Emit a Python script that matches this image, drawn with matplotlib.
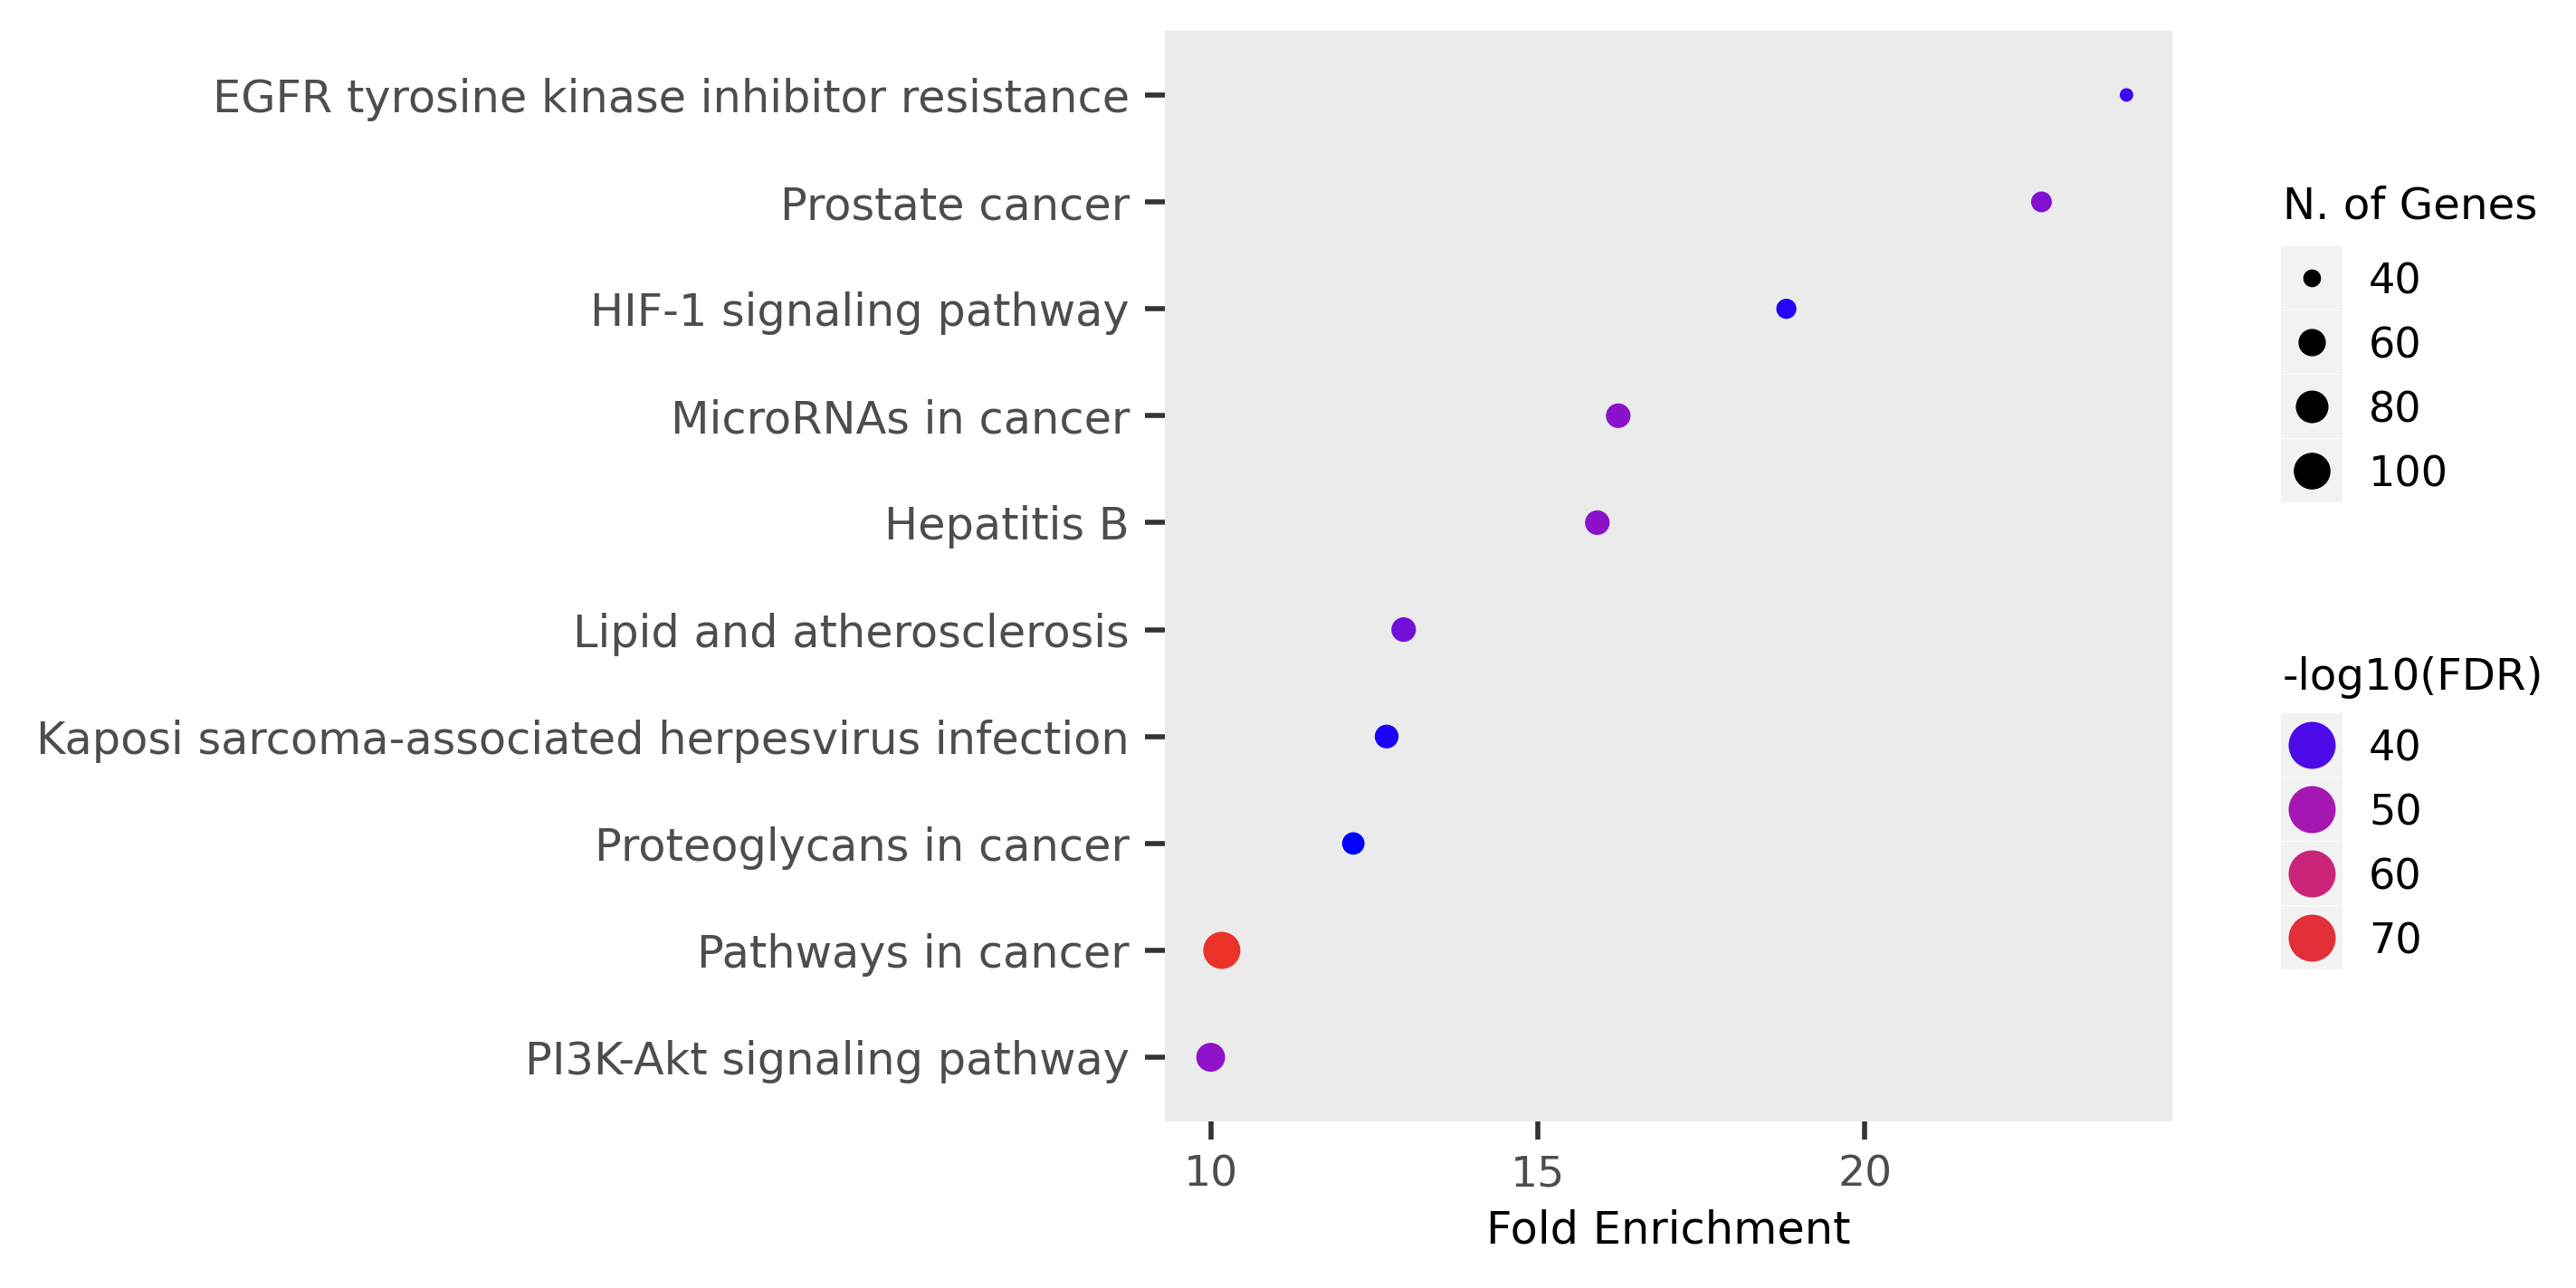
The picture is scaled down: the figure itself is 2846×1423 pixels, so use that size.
import numpy as np
import matplotlib
matplotlib.use("Agg")
import matplotlib.pyplot as plt
from matplotlib.colors import LinearSegmentedColormap, Normalize
from matplotlib.patches import Rectangle

# KEGG enrichment, listed top to bottom as in the figure
pathways = [
    "EGFR tyrosine kinase inhibitor resistance",
    "Prostate cancer",
    "HIF-1 signaling pathway",
    "MicroRNAs in cancer",
    "Hepatitis B",
    "Lipid and atherosclerosis",
    "Kaposi sarcoma-associated herpesvirus infection",
    "Proteoglycans in cancer",
    "Pathways in cancer",
    "PI3K-Akt signaling pathway",
]
fold_enrichment = [24.0, 22.7, 18.8, 16.23, 15.91, 12.95, 12.69, 12.18, 10.17, 10.0]
n_genes = [38, 44, 43, 52, 52, 52, 50, 47, 102, 65]
neg_log10_fdr = [39.5, 44.5, 38.5, 45.5, 45.5, 43, 38, 37, 73, 46]

size_breaks = [40, 60, 80, 100]
color_breaks = [40, 50, 60, 70]

W, H, DPI = 2846, 1423, 200
PX_PER_PT = DPI / 72.0

# ggplot-like blue -> red gradient (sampled, slightly muted like the original)
cmap = LinearSegmentedColormap.from_list(
    "bluered_lab",
    [(0.0, "#0000FF"), (0.1, "#5E0CE4"), (0.25, "#9012C8"),
     (0.5, "#C01E98"), (0.75, "#D42A60"), (1.0, "#EA3228")])
cnorm = Normalize(vmin=min(neg_log10_fdr), vmax=max(neg_log10_fdr))

D_MIN, D_MAX = 15.0, 41.0  # marker diameter range in pixels
g_lo, g_hi = min(n_genes), max(n_genes)


def marker_area(v):
    v = np.clip(np.asarray(v, dtype=float), g_lo, g_hi)
    d_px = D_MIN + (D_MAX - D_MIN) * np.sqrt((v - g_lo) / (g_hi - g_lo))
    return (d_px / PX_PER_PT) ** 2


fig = plt.figure(figsize=(W / DPI, H / DPI), dpi=DPI)
ax = fig.add_axes([1287 / W, 1 - 1239 / H, (2400 - 1287) / W, (1239 - 34) / H])
ax.set_facecolor("#EBEBEB")
for s in ax.spines.values():
    s.set_visible(False)

n = len(pathways)
ypos = np.arange(n)[::-1]
ax.scatter(fold_enrichment, ypos, s=marker_area(n_genes),
           c=cmap(cnorm(neg_log10_fdr)), linewidths=0, zorder=3)

x_lo, x_hi = min(fold_enrichment), max(fold_enrichment)
pad = 0.05 * (x_hi - x_lo)
ax.set_xlim(x_lo - pad, x_hi + pad)
ax.set_ylim(-0.6, n - 1 + 0.6)
ax.set_yticks(ypos)
ax.set_yticklabels(pathways)
ax.set_xticks([10, 15, 20])

ax.tick_params(axis="y", length=7.9, width=2.0, pad=6.1, color="#333333",
               labelsize=17.8, labelcolor="#4D4D4D")
ax.tick_params(axis="x", length=7.2, width=2.0, pad=6.1, color="#333333",
               labelsize=17.0, labelcolor="#4D4D4D")

fig.text((1287 + 2400) / 2 / W, 1 - 1360 / H, "Fold Enrichment",
         ha="center", va="center", fontsize=17.8, color="black")

# legends drawn in figure pixel space
lg = fig.add_axes([0, 0, 1, 1])
lg.set_xlim(0, W)
lg.set_ylim(H, 0)
lg.axis("off")
lg.set_facecolor("none")

key_x0, key_w, key_h = 2520, 68, 70
key_cx = key_x0 + key_w / 2
label_x = 2617

lg.text(2522, 242, "N. of Genes", fontsize=17.4, ha="left", va="baseline", color="black")
for i, b in enumerate(size_breaks):
    yc = 307 + 71 * i
    lg.add_patch(Rectangle((key_x0, yc - key_h / 2), key_w, key_h,
                           facecolor="#F2F2F2", edgecolor="none"))
    lg.scatter([key_cx], [yc], s=marker_area([b]), color="black", linewidths=0, zorder=3)
    lg.text(label_x, yc + 17.5, str(b), fontsize=16.6, ha="left", va="baseline", color="black")

lg.text(2522, 762, "-log10(FDR)", fontsize=17.4, ha="left", va="baseline", color="black")
for i, b in enumerate(color_breaks):
    yc = 823 + 71 * i
    lg.add_patch(Rectangle((key_x0, yc - key_h / 2), key_w, key_h,
                           facecolor="#F2F2F2", edgecolor="none"))
    lg.scatter([key_cx], [yc], s=(52 / PX_PER_PT) ** 2, color=cmap(cnorm(b)),
               linewidths=0, zorder=3)
    lg.text(label_x, yc + 17.5, str(b), fontsize=16.6, ha="left", va="baseline", color="black")

fig.savefig("out.png", dpi=DPI, facecolor="white")
